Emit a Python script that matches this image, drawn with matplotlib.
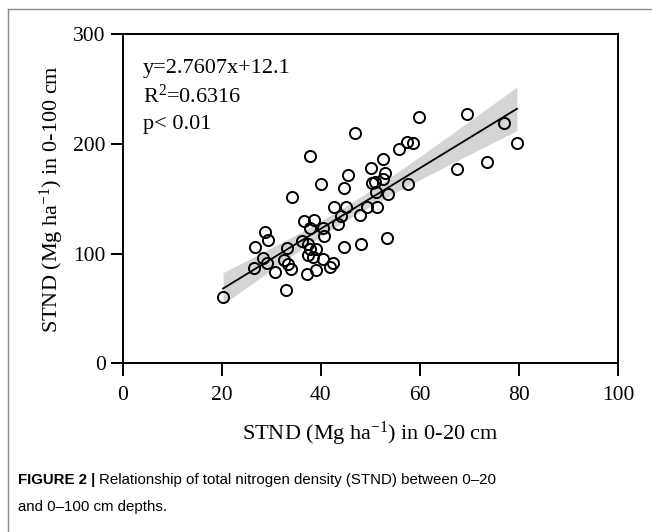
import numpy as np
import matplotlib
matplotlib.use("Agg")
import matplotlib.pyplot as plt
from matplotlib.lines import Line2D

# ---- data ----
stnd_0_20 = [20.3, 26.6, 26.7, 28.3, 29.1, 28.8, 29.3, 30.8, 32.5, 33.1,
             33.3, 34.0, 32.9, 34.3, 36.2, 37.4, 37.2, 37.8, 39.0, 37.5,
             38.4, 39.0, 40.5, 42.5, 41.9, 36.7, 38.7, 37.9, 40.5, 40.7,
             37.8, 40.0, 43.4, 44.1, 42.7, 45.1, 44.8, 48.1, 44.7, 45.6,
             46.9, 48.0, 49.3, 51.3, 50.1, 50.4, 50.9, 51.2, 52.6, 53.0,
             52.5, 53.5, 53.3, 55.9, 57.4, 58.6, 57.7, 59.8, 67.6, 69.6,
             73.6, 77.0, 79.6]
stnd_0_100 = [60.0, 86.5, 105.6, 95.6, 91.0, 119.5, 112.0, 83.4, 94.1, 105.0,
              90.4, 85.9, 67.0, 151.7, 111.7, 108.7, 81.3, 103.8, 103.8, 98.6,
              97.1, 85.0, 95.0, 91.0, 88.0, 129.9, 130.5, 123.0, 123.5, 116.2,
              188.8, 163.0, 126.6, 134.2, 142.0, 142.0, 105.6, 108.7, 159.4, 171.2,
              210.0, 134.8, 142.0, 142.0, 178.1, 164.0, 164.8, 155.7, 167.6, 173.0,
              186.0, 154.2, 114.4, 195.2, 201.3, 200.4, 163.0, 224.0, 177.0, 226.8,
              183.6, 219.1, 200.5]
slope = 2.7607
intercept = 12.1
eq_lines = ["y=2.7607x+12.1", "R$^{2}$=0.6316", "p< 0.01"]
x_ticks = [0, 20, 40, 60, 80, 100]
y_ticks = [0, 100, 200, 300]

plt.rcParams['font.family'] = ['Liberation Serif', 'DejaVu Serif']
plt.rcParams['mathtext.fontset'] = 'custom'
plt.rcParams['mathtext.rm'] = 'Liberation Serif'
plt.rcParams['mathtext.it'] = 'Liberation Serif:italic'
plt.rcParams['mathtext.bf'] = 'Liberation Serif:bold'

W, H = 652, 532
fig = plt.figure(figsize=(W / 100, H / 100), dpi=100)
ax = fig.add_axes([122.5 / W, 1 - 363.3 / H, (618 - 122.5) / W, (363.3 - 34) / H])

x = np.array(stnd_0_20)
y = np.array(stnd_0_100)

# confidence band around the regression line
n = len(x)
xs = np.linspace(x.min(), x.max(), 200)
yfit = slope * xs + intercept
resid = y - (slope * x + intercept)
s = np.sqrt(np.sum(resid ** 2) / (n - 2))
sxx = np.sum((x - x.mean()) ** 2)
tval = 1.999
half = tval * s * np.sqrt(1.0 / n + (xs - x.mean()) ** 2 / sxx)
ax.fill_between(xs, yfit - half, yfit + half, color='#d4d4d4', lw=0, zorder=1)
ax.plot(xs, yfit, color='black', lw=1.3, zorder=2)

ax.plot(x, y, linestyle='none', marker='o', markersize=8, markerfacecolor='none',
        markeredgecolor='black', markeredgewidth=1.4, zorder=3)

ax.set_xlim(0, 100)
ax.set_ylim(0, 300)
ax.set_xticks(x_ticks)
ax.set_yticks(y_ticks)
ax.tick_params(direction='out', length=9, width=1.4, labelsize=15.5, pad=3)
ax.tick_params(axis='x', pad=7)
for sp in ax.spines.values():
    sp.set_linewidth(1.4)

ax.set_xlabel("STND (Mg ha$^{-1}$) in 0-20 cm", fontsize=16, labelpad=11)
ax.set_ylabel("STND (Mg ha$^{-1}$) in 0-100 cm", fontsize=16, labelpad=5)

for i, t in enumerate(eq_lines):
    fig.text(143 / W, 1 - (68 + i * 28.5) / H, t, fontsize=16, va='center', ha='left')

# caption
cap_fam = ['Liberation Sans Narrow', 'Liberation Sans', 'DejaVu Sans']
cap_size = 10.8
t1 = fig.text(18 / W, 1 - 480 / H, "FIGURE 2 | ", fontsize=cap_size, fontweight='bold',
              family=cap_fam, va='center', ha='left')
fig.canvas.draw()
bb = t1.get_window_extent()
fig.text(bb.x1 / W, 1 - 480 / H, "Relationship of total nitrogen density (STND) between 0\u201320",
         fontsize=cap_size, family=cap_fam, va='center', ha='left')
fig.text(18 / W, 1 - 507 / H, "and 0\u2013100 cm depths.", fontsize=cap_size, family=cap_fam,
         va='center', ha='left')

# figure border (left and top)
fig.add_artist(Line2D([7.5 / W, 7.5 / W], [0, 1 - 9 / H], transform=fig.transFigure,
                      color='#8a8a8a', lw=1.0))
fig.add_artist(Line2D([7.5 / W, 1], [1 - 9 / H, 1 - 9 / H], transform=fig.transFigure,
                      color='#8a8a8a', lw=1.0))

fig.savefig("out.png", dpi=100)
